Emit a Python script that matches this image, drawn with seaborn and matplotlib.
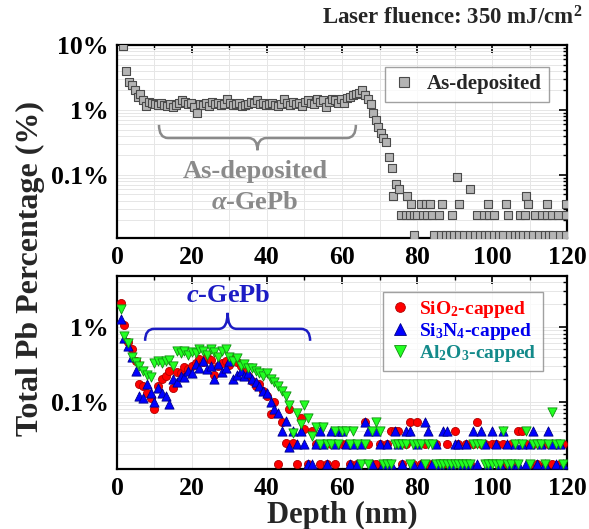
import numpy as np
import pandas as pd
import matplotlib
matplotlib.use("Agg")
import matplotlib.pyplot as plt
import seaborn as sns
from matplotlib.path import Path
from matplotlib.patches import PathPatch
from matplotlib.lines import Line2D
from matplotlib.ticker import LogLocator, MultipleLocator, NullFormatter, FuncFormatter, FixedLocator

# ---------------- data ----------------
# Top panel: as-deposited sample (depth nm, total Pb %)
as_depth = [1.5, 2.5, 3.3, 4.0, 4.8, 5.5, 6.2, 7.0, 7.8, 8.6, 9.4, 10.2, 11.0, 11.8, 12.6,
            13.4, 14.2, 15.0, 15.8, 16.6, 17.4, 18.2, 19.0, 19.8, 20.6, 21.4, 22.2, 23.0,
            23.8, 24.6, 25.4, 26.2, 27.0, 27.8, 28.6, 29.4, 30.2, 31.0, 31.8, 32.6, 33.4,
            34.2, 35.0, 35.8, 36.6, 37.4, 38.2, 39.0, 39.8, 40.6, 41.4, 42.2, 43.0, 43.8,
            44.6, 45.4, 46.2, 47.0, 47.8, 48.6, 49.4, 50.2, 51.0, 51.8, 52.6, 53.4, 54.2,
            55.0, 55.8, 56.6, 57.4, 58.2, 59.0, 59.8, 60.6, 61.4, 62.2, 63.0, 63.8, 64.6,
            65.4, 66.2, 67.0, 67.6, 68.3, 69.0, 69.6, 70.3, 71.0, 71.8, 72.6, 73.2, 73.7,
            74.4, 75.2, 77.2, 90.6, 94.0, 109.0,
            78.4, 81.1, 82.4, 83.5, 86.7, 91.2, 98.9, 103.7, 109.5, 114.7, 119.7,
            75.7, 77.0, 78.0, 79.2, 80.1, 81.5, 82.6, 83.9, 85.9, 89.4, 95.9, 97.9, 99.3,
            100.6, 104.2, 107.5, 108.7, 111.5, 113.2, 114.6, 116.1, 117.7, 119.8,
            79.2, 84.6, 86.4, 87.7, 88.8, 89.9, 91.2, 92.5, 94.1, 95.5, 96.8, 98.0, 99.3,
            100.5, 101.9, 103.0, 104.8, 106.1, 107.2, 108.2, 109.5, 110.8, 112.5, 114.1,
            115.2, 116.3, 118.1, 119.7]
as_value = [9.5, 4.0, 2.7, 2.4, 2.0, 1.6, 1.75, 1.4, 1.15, 1.35, 1.3, 1.25, 1.2, 1.3, 1.2,
            1.15, 1.25, 1.1, 1.2, 1.3, 1.4, 1.35, 1.25, 1.3, 1.1, 0.9, 1.25, 1.2,
            1.3, 1.15, 1.35, 1.25, 1.3, 1.2, 1.25, 1.45, 1.3, 1.2, 1.25, 1.3, 1.15,
            1.2, 1.25, 1.35, 1.3, 1.4, 1.25, 1.3, 1.2, 1.25, 1.3, 1.2, 1.15, 1.25,
            1.45, 1.3, 1.2, 1.35, 1.25, 1.3, 1.15, 1.35, 1.4, 1.3, 1.25, 1.45, 1.35,
            1.4, 1.1, 1.35, 1.5, 1.4, 1.3, 1.45, 1.3, 1.55, 1.6, 1.7, 1.75, 1.85,
            2.0, 1.7, 1.45, 1.25, 0.9, 0.7, 0.55, 0.44, 0.37, 0.32, 0.19, 0.13, 0.048,
            0.073, 0.061, 0.048, 0.093, 0.061, 0.048,
            0.036, 0.036, 0.036, 0.036, 0.036, 0.036, 0.036, 0.036, 0.036, 0.036, 0.036,
            0.024, 0.024, 0.024, 0.024, 0.024, 0.024, 0.024, 0.024, 0.024, 0.024, 0.024, 0.024, 0.024,
            0.024, 0.024, 0.024, 0.024, 0.024, 0.024, 0.024, 0.024, 0.024, 0.024,
            0.012, 0.012, 0.012, 0.012, 0.012, 0.012, 0.012, 0.012, 0.012, 0.012, 0.012, 0.012, 0.012,
            0.012, 0.012, 0.012, 0.012, 0.012, 0.012, 0.012, 0.012, 0.012, 0.012, 0.012,
            0.012, 0.012, 0.012, 0.012]

# Bottom panel: capped samples, depth 1..119 nm
cap_depth = [1, 2, 3, 4, 5, 6, 7, 8, 9, 10, 11, 12, 13, 14, 15, 16, 17, 18, 19, 20,
             21, 22, 23, 24, 25, 26, 27, 28, 29, 30, 31, 32, 33, 34, 35, 36, 37, 38, 39, 40,
             41, 42, 43, 44, 45, 46, 47, 48, 49, 50, 51, 52, 53, 54, 55, 56, 57, 58, 59, 60,
             61, 62, 63, 64, 65, 66, 67, 68, 69, 70, 71, 72, 73, 74, 75, 76, 77, 78, 79, 80,
             81, 82, 83, 84, 85, 86, 87, 88, 89, 90, 91, 92, 93, 94, 95, 96, 97, 98, 99, 100,
             101, 102, 103, 104, 105, 106, 107, 108, 109, 110, 111, 112, 113, 114, 115, 116,
             117, 118, 119]
sio2_value = [2.1, 1.05, 0.62, 0.5, 0.35, 0.17, 0.16, 0.13, 0.11, 0.08,
              0.16, 0.2, 0.22, 0.26, 0.15, 0.25, 0.24, 0.29, 0.27, 0.3,
              0.33, 0.37, 0.34, 0.39, 0.36, 0.23, 0.3, 0.33, 0.35, 0.31,
              0.38, 0.34, 0.3, 0.28, 0.22, 0.19, 0.16, 0.17, 0.14, 0.12,
              0.069, 0.1, 0.0148, 0.053, 0.028, 0.08, 0.028, 0.0148, 0.06, 0.043,
              0.0148, 0.04, 0.027, 0.0148,
              0.027, 0.0148, 0.027, 0.0148, 0.04, 0.027, 0.027, 0.0148, 0.027, 0.0148,
              0.027, 0.053, 0.027, 0.0148, 0.0148, 0.027, 0.0148, 0.027, 0.04, 0.04,
              0.04, 0.0148, 0.027, 0.053, 0.0148, 0.053, 0.0148, 0.027, 0.0148, 0.0148,
              0.027, 0.0148, 0.0148, 0.027, 0.0148, 0.04, 0.027, 0.0148, 0.027, 0.0148,
              0.027, 0.053, 0.027, 0.027, 0.0148, 0.027, 0.027, 0.0148, 0.027, 0.0148,
              0.027, 0.0148, 0.04, 0.04, 0.027, 0.0148, 0.027, 0.0148, 0.027, 0.0148,
              0.027, 0.0148, 0.027, 0.0148, 0.027]
si3n4_value = [1.27, 0.72, 0.55, 0.39, 0.26, 0.12, 0.11, 0.17, 0.13, 0.098,
               0.15, 0.13, 0.12, 0.093, 0.2, 0.18, 0.22, 0.21, 0.26, 0.24,
               0.32, 0.28, 0.35, 0.27, 0.3, 0.2, 0.32, 0.25, 0.28, 0.35,
               0.2, 0.23, 0.26, 0.22, 0.24, 0.2, 0.18, 0.16, 0.14, 0.13,
               0.1, 0.08, 0.07, 0.04, 0.055, 0.025, 0.04, 0.027, 0.04, 0.027,
               0.0148,
               0.0148, 0.027, 0.04, 0.027, 0.0148, 0.04, 0.027, 0.04, 0.04,
               0.027, 0.0148, 0.027, 0.0148, 0.027, 0.053, 0.04, 0.0148, 0.04, 0.027,
               0.0148, 0.027, 0.0148, 0.04, 0.027, 0.0148, 0.04, 0.04, 0.0148, 0.027,
               0.0148, 0.053, 0.04, 0.0148, 0.027, 0.0148, 0.04, 0.04, 0.0148, 0.027,
               0.027, 0.0148, 0.027, 0.0148, 0.04, 0.0148, 0.04, 0.027, 0.0148, 0.04,
               0.027, 0.0148, 0.04, 0.027, 0.0148, 0.027, 0.0148, 0.027, 0.0148, 0.027,
               0.04, 0.0148, 0.027, 0.0148, 0.04, 0.027, 0.0148, 0.027, 0.0148]
al2o3_value = [1.72, 0.76, 0.6, 0.4, 0.34, 0.3, 0.26, 0.23, 0.21, 0.33,
               0.35, 0.33, 0.35, 0.36, 0.3, 0.48, 0.45, 0.48, 0.42, 0.46,
               0.44, 0.5, 0.48, 0.42, 0.5, 0.46, 0.4, 0.48, 0.5, 0.4,
               0.35, 0.38, 0.3, 0.32, 0.28, 0.28, 0.26, 0.24, 0.22, 0.24,
               0.2, 0.18, 0.16, 0.14, 0.12, 0.09, 0.038, 0.07, 0.05, 0.09,
               0.06, 0.035, 0.045, 0.027, 0.045, 0.027,
               0.027, 0.04, 0.027, 0.04, 0.04, 0.027, 0.04, 0.027, 0.0148, 0.027,
               0.0148, 0.04, 0.053, 0.04, 0.0148, 0.0148, 0.0148, 0.027, 0.027, 0.027,
               0.027, 0.0148, 0.027, 0.027, 0.027, 0.0148, 0.027, 0.027, 0.0148, 0.0148,
               0.0148, 0.0148, 0.0148, 0.0148, 0.0148, 0.0148, 0.0148, 0.0148, 0.027, 0.027,
               0.027, 0.0148, 0.0148, 0.0148, 0.0148, 0.0148, 0.04, 0.0148, 0.0148, 0.027,
               0.0148, 0.027, 0.04, 0.0148, 0.027, 0.027, 0.027, 0.0148, 0.027, 0.072,
               0.027, 0.027, 0.0148]

series_names = ["SiO$_2$-capped", "Si$_3$N$_4$-capped", "Al$_2$O$_3$-capped"]
y_ticks = [0.1, 1, 10]
x_ticks = [0, 20, 40, 60, 80, 100, 120]

# ---------------- style ----------------
sns.set_theme(style="white")
plt.rcParams["font.family"] = ["Liberation Serif", "DejaVu Serif"]
plt.rcParams["font.weight"] = "bold"
plt.rcParams["mathtext.fontset"] = "custom"
plt.rcParams["mathtext.rm"] = "Liberation Serif:bold"
plt.rcParams["mathtext.it"] = "Liberation Serif:italic:bold"
plt.rcParams["mathtext.bf"] = "Liberation Serif:bold"

fig = plt.figure(figsize=(5.89, 5.29), dpi=100)
ax1 = fig.add_axes([0.1986, 0.5501, 0.7641, 0.3648])
ax2 = fig.add_axes([0.1986, 0.1134, 0.7641, 0.3649])

df_as = pd.DataFrame({"depth": as_depth, "value": as_value})
sns.scatterplot(data=df_as, x="depth", y="value", ax=ax1, marker="s", s=32,
                color="#b4b4b4", edgecolor="#4a4a4a", linewidth=0.8, legend=False, zorder=3)

caps = [("o", "#ff0000", "#b00000", 34, sio2_value),
        ("^", "#0000ff", "#00008a", 44, si3n4_value),
        ("v", "#22ff22", "#109010", 44, al2o3_value)]
for name, (mk, fc, ec, sz, vals) in zip(series_names, caps):
    d = pd.DataFrame({"depth": cap_depth, "value": vals})
    sns.scatterplot(data=d, x="depth", y="value", ax=ax2, marker=mk, s=sz, color=fc,
                    edgecolor=ec, linewidth=0.6, legend=False, zorder=3)

pct = FuncFormatter(lambda v, p: f"{v:g}%")
for ax, ylim in ((ax1, (0.0107, 10)), (ax2, (0.0125, 4.8))):
    ax.set_yscale("log")
    ax.set_xlim(0, 120)
    ax.set_ylim(*ylim)
    ax.xaxis.set_major_locator(FixedLocator(x_ticks))
    ax.xaxis.set_minor_locator(MultipleLocator(10))
    ax.yaxis.set_major_locator(FixedLocator(y_ticks))
    ax.yaxis.set_minor_locator(LogLocator(base=10, subs=np.arange(2, 10)))
    ax.yaxis.set_major_formatter(pct)
    ax.yaxis.set_minor_formatter(NullFormatter())
    ax.tick_params(which="both", direction="in", top=True, right=True, colors="black")
    ax.tick_params(which="major", length=6, width=1.2, labelsize=18.5, pad=6)
    ax.tick_params(which="minor", length=3, width=1.0)
    for lab in ax.get_xticklabels() + ax.get_yticklabels():
        lab.set_fontweight("bold")
    ax.grid(True, which="both", color="#e6e6e6", lw=0.7)
    ax.set_axisbelow(True)
    for sp in ax.spines.values():
        sp.set_color("black")
        sp.set_linewidth(1.6)
    ax.set_xlabel("")
    ax.set_ylabel("")


def brace(ax, x0, x1, y_end, y_line, y_tip, color, lw=1.8, r=0.02):
    tr = ax.transData + ax.transAxes.inverted()
    xm = 0.5 * (x0 + x1)
    X0, Ye = tr.transform((x0, y_end))
    X1, _ = tr.transform((x1, y_end))
    Xm, Yl = tr.transform((xm, y_line))
    _, Yt = tr.transform((xm, y_tip))
    verts = [(X0, Ye), (X0, Yl), (X0 + r, Yl), (Xm - r, Yl), (Xm, Yl), (Xm, Yt),
             (Xm, Yl), (Xm + r, Yl), (X1 - r, Yl), (X1, Yl), (X1, Ye)]
    codes = [Path.MOVETO, Path.CURVE3, Path.CURVE3, Path.LINETO, Path.CURVE3, Path.CURVE3,
             Path.CURVE3, Path.CURVE3, Path.LINETO, Path.CURVE3, Path.CURVE3]
    ax.add_patch(PathPatch(Path(verts, codes), transform=ax.transAxes, fc="none",
                           ec=color, lw=lw, zorder=4))


gray = "#8a8a8a"
blue = "#1c1cc4"
brace(ax1, 11.2, 63.7, 0.59, 0.37, 0.24, gray)
ax1.text(36.8, 0.112, "As-deposited", color=gray, fontsize=19, ha="center", va="center", zorder=5)
ax1.text(36.8, 0.037, r"$\alpha$-GePb", color=gray, fontsize=19, ha="center", va="center", zorder=5)

brace(ax2, 7.5, 51.5, 0.65, 0.94, 1.54, blue)
ax2.text(29.7, 2.6, r"$c$-GePb", color=blue, fontsize=19, ha="center", va="center", zorder=5)

# legends
h_as = [Line2D([], [], ls="", marker="s", markersize=7, markerfacecolor="#b4b4b4",
               markeredgecolor="#4a4a4a", markeredgewidth=0.8)]
leg1 = ax1.legend(h_as, ["As-deposited"], loc="upper right", bbox_to_anchor=(0.984, 0.94),
                  frameon=True, fancybox=False, edgecolor="#8a8a8a", fontsize=15,
                  handletextpad=0.5, borderpad=0.35, handlelength=1.2)
leg1.get_frame().set_linewidth(1.0)

h_caps = [Line2D([], [], ls="", marker=mk, markersize=7 if mk == "o" else 8,
                 markerfacecolor=fc, markeredgecolor=ec, markeredgewidth=0.6)
          for (mk, fc, ec, sz, vals) in caps]
leg2 = ax2.legend(h_caps, series_names, loc="upper right", bbox_to_anchor=(0.969, 0.965),
                  frameon=True, fancybox=False, edgecolor="#8a8a8a", fontsize=14,
                  handletextpad=0.5, borderpad=0.35, handlelength=1.0, labelspacing=0.05)
leg2.get_frame().set_linewidth(1.0)
for t, c in zip(leg2.get_texts(), ["#ff0000", "#0000ee", "#138a8a"]):
    t.set_color(c)

fig.text(0.988, 0.966, "Laser fluence: 350 mJ/cm$^2$", ha="right", va="center", fontsize=16.5)
fig.text(0.052, 0.493, "Total Pb Percentage (%)", rotation=90, ha="center", va="center", fontsize=23)
fig.text(0.581, 0.026, "Depth (nm)", ha="center", va="center", fontsize=22)

fig.savefig("out.png", dpi=100)
